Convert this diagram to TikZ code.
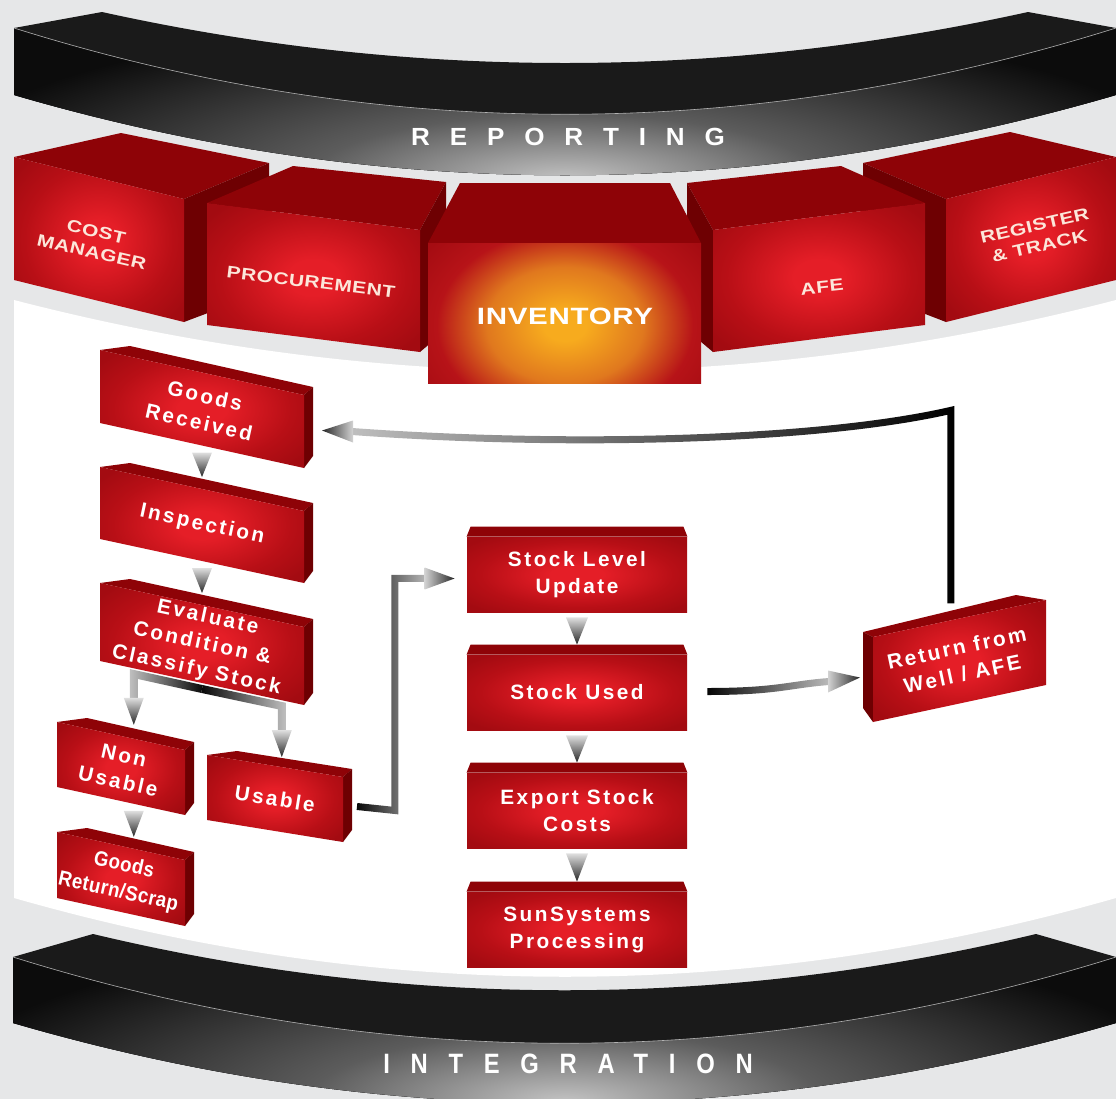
\documentclass[tikz,border=0pt]{standalone}
\usepackage{fontspec}
\setmainfont{Liberation Sans}
\newfontfamily\flowfont[LetterSpace=12]{Liberation Sans}
\newfontfamily\narrowfont[FakeStretch=0.9,LetterSpace=2]{Liberation Sans}
\newfontfamily\modfont[FakeStretch=1.25,LetterSpace=3]{Liberation Sans}
\newfontfamily\bandfont[FakeStretch=1.05,LetterSpace=80]{Liberation Sans}
\newfontfamily\intfont[FakeStretch=0.85,LetterSpace=74]{Liberation Sans}
\usetikzlibrary{calc,fadings}

\definecolor{bggray}{HTML}{E6E7E8}
\definecolor{redhi}{HTML}{E51E27}
\definecolor{redmid}{HTML}{B80F16}
\definecolor{reddk}{HTML}{A30B11}
\definecolor{redtop}{HTML}{8E0307}
\definecolor{redside}{HTML}{6E0002}
\definecolor{labelpink}{HTML}{FCE6DA}
\definecolor{invA}{HTML}{F7AB1E}
\definecolor{invB}{HTML}{E0781E}
\definecolor{invC}{HTML}{B71318}
\definecolor{bandtop}{HTML}{1A1A1A}
\definecolor{bandblack}{HTML}{0C0C0C}
\definecolor{bandmid}{HTML}{5C5C5C}
\definecolor{bandhi}{HTML}{C4C4C4}

\pgfdeclareradialshading{redface}{\pgfpoint{0bp}{0bp}}{color(0bp)=(redhi); color(6bp)=(redhi); color(22bp)=(redmid); color(32bp)=(reddk); color(50bp)=(reddk)}
\pgfdeclareradialshading{invglow}{\pgfpoint{0bp}{0bp}}{color(0bp)=(invA); color(3bp)=(invA); color(11bp)=(invB); color(18bp)=(invC); color(25bp)=(reddk); color(50bp)=(reddk)}
\pgfdeclareradialshading{bandglow}{\pgfpoint{0bp}{0bp}}{color(0bp)=(bandhi); color(10bp)=(bandmid); color(25bp)=(bandblack); color(50bp)=(bandblack)}

\tikzfading[name=fadeeast,left color=transparent!0,right color=transparent!75]
\tikzfading[name=fadewest,left color=transparent!75,right color=transparent!0]

% slanted 3d box: name, x, y, width, drop, height, text
\newcommand{\slantbox}[7]{
  \coordinate (#1-tl) at (#2,#3);
  \coordinate (#1-tr) at ($(#1-tl)+(#4,#5)$);
  \coordinate (#1-br) at ($(#1-tr)+(0,#6)$);
  \coordinate (#1-bl) at ($(#1-tl)+(0,#6)$);
  \fill[redtop] (#1-tl) -- ++(30,-4) -- ($(#1-tr)+(9,-8)$) -- (#1-tr) -- cycle;
  \fill[redside] (#1-tr) -- ++(9,-8) -- ($(#1-br)+(9,-12)$) -- (#1-br) -- cycle;
  \shade[shading=redface] (#1-tl) -- (#1-tr) -- (#1-br) -- (#1-bl) -- cycle;
  \node[flowtext,rotate={-atan2(#5,#4)}] (#1) at ($(#1-tl)!0.5!(#1-br)$) {#7};
}

\begin{document}
\begin{tikzpicture}[x=0.5pt,y=-0.5pt,
    flowtext/.style={text=white,align=center,inner sep=0pt,
      font=\flowfont\bfseries\fontsize{10.4}{13.5}\selectfont},
    stockbox/.style={flowtext,shade,shading=redface,minimum width=110pt,minimum height=37.5pt},
    modtext/.style={text=labelpink,align=center,inner sep=0pt,
      font=\modfont\bfseries\fontsize{8.4}{10.5}\selectfont},
    invtext/.style={text=white,font=\modfont\bfseries\fontsize{11.8}{13}\selectfont},
    bandtext/.style={text=white,inner sep=0pt,font=\bandfont\bfseries\fontsize{12.4}{13}\selectfont},
    inttext/.style={text=white,inner sep=0pt,font=\intfont\bfseries\fontsize{14}{15}\selectfont},
    flowline/.style={line width=3.5pt},
    splitline/.style={line width=4pt},
    downtip/.style={top color=gray!25,bottom color=black!85},
    lefttip/.style={left color=black!85,right color=gray!35},
    righttip/.style={left color=gray!35,right color=black!85}]

\useasboundingbox (0,0) rectangle (1116,1099);
\fill[bggray] (0,0) rectangle (1116,1099);

% white work area
\fill[white] (14,300) .. controls (381,395) and (749,395) .. (1116,300) -- (1116,898)
  .. controls (749,1003) and (381,1003) .. (14,898) -- cycle;

% reporting band
\fill[bandtop] (14,28) -- (102,12) .. controls (411,80) and (719,80) .. (1028,12) -- (1116,28)
  -- (1116,95) .. controls (749,202) and (381,202) .. (14,95) -- cycle;
\begin{scope}
  \clip (14,28) .. controls (381,143) and (749,143) .. (1116,28) -- (1116,95)
    .. controls (749,202) and (381,202) .. (14,95) -- cycle;
  \fill[bandblack] (0,0) rectangle (1116,210);
  \shade[shading=bandglow] (565,180) ellipse (640 and 165);
\end{scope}
\draw[gray!60,line width=0.3pt] (14,28) .. controls (381,143) and (749,143) .. (1116,28);
\node[bandtext] (reporting) at (568,137) {REPORTING};

% integration band
\fill[bandtop] (13,957) -- (93,934) .. controls (407,1009) and (722,1009) .. (1036,934) -- (1116,957)
  -- (1116,1023) .. controls (748,1130) and (381,1130) .. (13,1023) -- cycle;
\begin{scope}
  \clip (13,957) .. controls (381,1072) and (748,1072) .. (1116,957) -- (1116,1023)
    .. controls (748,1130) and (381,1130) .. (13,1023) -- cycle;
  \fill[bandblack] (0,940) rectangle (1116,1140);
  \shade[shading=bandglow] (565,1102) ellipse (640 and 175);
\end{scope}
\draw[gray!60,line width=0.3pt] (13,957) .. controls (381,1072) and (748,1072) .. (1116,957);
\node[inttext] (integration) at (568,1064) {INTEGRATION};

% modules, outer ones first
\fill[redtop] (14,157) -- (121,133) -- (269,163) -- (184,199) -- cycle;
\fill[redside] (184,199) -- (269,163) -- (269,290) -- (184,322) -- cycle;
\shade[shading=redface] (14,157) -- (184,199) -- (184,322) -- (14,280) -- cycle;

\fill[redtop] (863,163) -- (1010,132) -- (1116,157) -- (946,199) -- cycle;
\fill[redside] (863,163) -- (946,199) -- (946,322) -- (863,290) -- cycle;
\shade[shading=redface] (946,199) -- (1116,157) -- (1116,280) -- (946,322) -- cycle;

\fill[redtop] (207,203) -- (293,166) -- (446,182) -- (420,230) -- cycle;
\fill[redside] (420,230) -- (446,182) -- (446,330) -- (420,352) -- cycle;
\shade[shading=redface] (207,203) -- (420,230) -- (420,352) -- (207,325) -- cycle;

\fill[redtop] (687,183) -- (841,166) -- (925,203) -- (713,230) -- cycle;
\fill[redside] (687,183) -- (713,230) -- (713,352) -- (687,330) -- cycle;
\shade[shading=redface] (713,230) -- (925,203) -- (925,325) -- (713,352) -- cycle;

\fill[redtop] (428,243) -- (460,183) -- (670,183) -- (701,243) -- cycle;
\begin{scope}
  \clip (428,243) rectangle (701,383);
  \fill[reddk] (428,243) rectangle (701,383);
  \shade[shading=invglow] (565,325) ellipse (178 and 132);
\end{scope}

\node[modtext,rotate=-13] (cost) at (94,242) {COST\\MANAGER};
\node[modtext,rotate=-7] (proc) at (311,282) {PROCUREMENT};
\node[modtext,invtext] (inv) at (565,316) {INVENTORY};
\node[modtext,rotate=6] (afe) at (822,287) {AFE};
\node[modtext,rotate=13] (reg) at (1037,236) {REGISTER\\\& TRACK};

% left column
\slantbox{gr}{100}{350}{204}{45}{73}{Goods\\Received}
\slantbox{insp}{100}{467}{204}{44}{72}{Inspection}
\slantbox{ev}{100}{583}{204}{44}{78}{Evaluate\\Condition \&\\Classify Stock}
\slantbox{nu}{57}{722}{128}{28}{65}{Non\\Usable}
\slantbox{us}{207}{755}{136}{22}{65}{Usable}
\slantbox{grs}{57}{832}{128}{28}{66}{{\narrowfont Goods}\\{\narrowfont Return/Scrap}}

% return from well box, side on the left
\coordinate (rw-tl) at (873,637);
\coordinate (rw-tr) at (1046,600);
\coordinate (rw-br) at (1046,685);
\coordinate (rw-bl) at (873,722);
\fill[redtop] (rw-tl) -- ++(-10,-5) -- ($(rw-tr)+(-30,-5)$) -- (rw-tr) -- cycle;
\fill[redside] (rw-tl) -- ++(-10,-5) -- ($(rw-bl)+(-10,-14)$) -- (rw-bl) -- cycle;
\shade[shading=redface] (rw-tl) -- (rw-tr) -- (rw-br) -- (rw-bl) -- cycle;
\node[flowtext,rotate=12] (rw) at ($(rw-tl)!0.5!(rw-br)$) {Return from\\Well / AFE};

% middle column
\node[stockbox] (slu) at (577,574.5) {Stock Level\\Update};
\node[stockbox] (su) at (577,692.5) {Stock Used};
\node[stockbox] (esc) at (577,810.5) {Export Stock\\Costs};
\node[stockbox] (ssp) at (577,929.5) {SunSystems\\Processing};
\foreach \n in {slu,su,esc,ssp}
  \fill[redtop] (\n.north west) -- ++(4,-10) -- ($(\n.north east)+(-4,-10)$) -- (\n.north east) -- cycle;

% down arrows
\foreach \a/\b in {slu/su,su/esc,esc/ssp}
  \shade[downtip] ($(\a.south)+(-11,5)$) -- ($(\a.south)+(11,5)$) -- ($(\b.north)+(0,-10)$) -- cycle;
\foreach \a/\b/\f in {gr/insp/0.5,insp/ev/0.5,nu/grs/0.6}
  \shade[downtip] ($(\a-bl)!\f!(\a-br)+(-10,7)$) -- ($(\a-bl)!\f!(\a-br)+(10,7)$)
    -- ($(\b-tl)!\f!(\b-tr)+(0,-12)$) -- cycle;

% split after evaluation
\coordinate (split) at ($(ev-bl)!0.5!(ev-br)+(0,6)$);
\coordinate (nutip) at ($(nu-tl)!0.6!(nu-tr)+(0,-14)$);
\coordinate (ustip) at ($(us-tl)!0.55!(us-tr)+(0,-10)$);
\draw[splitline,path fading=fadewest] (split) -- ($(nutip |- split)+(0,-15)$) -- ($(nutip)+(0,-26)$);
\draw[splitline,path fading=fadeeast] (split) -- ($(ustip |- split)+(0,17)$) -- ($(ustip)+(0,-26)$);
\shade[downtip] ($(nutip)+(-10,-27)$) -- ($(nutip)+(10,-27)$) -- (nutip) -- cycle;
\shade[downtip] ($(ustip)+(-10,-27)$) -- ($(ustip)+(10,-27)$) -- (ustip) -- cycle;

% usable to stock level
\coordinate (sluin) at ($(slu.west)+(-12,4)$);
\draw[flowline,path fading=fadeeast]
  ($(us-tr)!0.5!(us-br)+(14,-3)$) -- ++(38,4) |- ($(sluin)+(-29,0)$);
\shade[righttip] ($(sluin)+(-30,-11)$) -- (sluin) -- ($(sluin)+(-30,11)$) -- cycle;

% stock used to return from well
\coordinate (rwin) at ($(rw-tl)!0.5!(rw-bl)+(-13,-2)$);
\draw[flowline,path fading=fadeeast]
  ($(su.east)+(20,-1)$) .. controls +(70,0) and +(-40,3) .. ($(rwin)+(-31,4)$);
\shade[righttip] ($(rwin)+(-32,-7)$) -- (rwin) -- ($(rwin)+(-32,15)$) -- cycle;

% return from well back to goods received
\coordinate (rwup) at ($(rw-tl)!0.45!(rw-tr)+(0,-17)$);
\coordinate (grin) at ($(gr-tr)!0.5!(gr-br)+(18,-1)$);
\draw[flowline,path fading=fadewest]
  (rwup) -- ++(0,-193) .. controls +(-130,30) and +(220,16) .. ($(grin)+(30,1)$);
\shade[lefttip] (grin) -- ($(grin)+(31,-10)$) -- ($(grin)+(31,12)$) -- cycle;
\end{tikzpicture}
\end{document}
